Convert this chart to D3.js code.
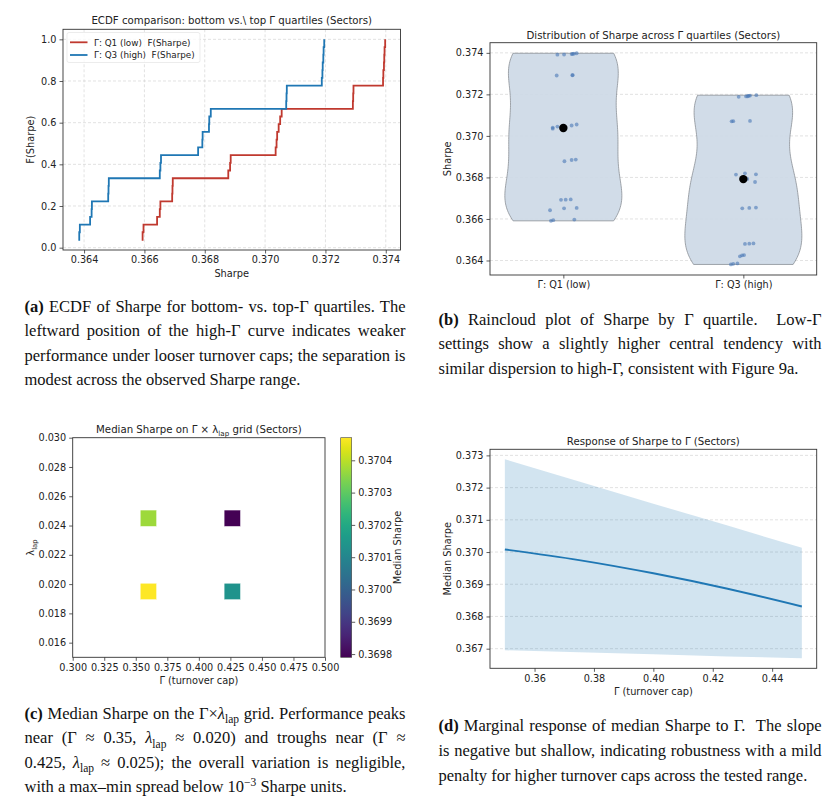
<!DOCTYPE html>
<html><head><meta charset="utf-8">
<script src="https://cdn.jsdelivr.net/npm/d3@7"></script>
<style>
body{margin:0;background:#fff}
svg{display:block}
text{font-family:"DejaVu Sans",sans-serif;fill:#222}
.cap{font-family:"Liberation Serif","Times New Roman",serif;font-size:16.5px;fill:#111;white-space:pre}
</style>
</head><body>
<svg id="fig" width="839" height="798"></svg>
<script>
// ---------------- DATA ----------------
const quartileLabels = ["Γ: Q1 (low)", "Γ: Q3 (high)"];
const ecdfLegend = ["Γ: Q1 (low)  F(Sharpe)", "Γ: Q3 (high)  F(Sharpe)"];
// Sharpe values per quartile (27 runs each)
const q1Sharpe = [0.36591,0.36594,0.36597,0.36642,0.36651,0.36653,0.36692,0.36693,0.36694,
  0.36878,0.36884,0.36886,0.37035,0.37038,0.37040,0.37045,0.37050,0.37055,
  0.37291,0.37292,0.37293,0.37391,0.37392,0.37394,0.37395,0.37396,0.37398];
const q1Jitter = [-0.069,-0.056,0.061,-0.074,0.004,0.074,-0.013,0.013,0.041,
  0.006,0.046,0.069,-0.059,0.0,-0.059,-0.033,0.046,0.074,
  -0.037,0.050,0.052,-0.033,0.004,0.046,0.052,0.059,0.074];
const q3Sharpe = [0.36381,0.36384,0.36386,0.36420,0.36425,0.36426,0.36480,0.36481,0.36482,
  0.36651,0.36653,0.36655,0.36778,0.36792,0.36793,0.36814,0.36815,0.36820,
  0.37070,0.37071,0.37072,0.37188,0.37190,0.37191,0.37193,0.37194,0.37196];
const q3Jitter = [-0.069,-0.056,-0.033,-0.019,-0.007,0.004,0.009,0.033,0.056,
  -0.006,0.033,0.070,0.065,0.0,0.022,-0.041,0.070,0.009,
  -0.065,-0.056,0.037,-0.026,0.015,0.024,0.030,0.037,0.072];
// heatmap grid
const gridGamma  = [0.36, 0.36, 0.4265, 0.4265];
const gridLambda = [0.0195, 0.0245, 0.0195, 0.0245];
const gridMedian = [0.37047, 0.37037, 0.37014, 0.36979];
const cbarTicks = [0.3698,0.3699,0.3700,0.3701,0.3702,0.3703,0.3704];
// response curve
const respGamma = [0.35, 0.375, 0.40, 0.425, 0.45];
const respMean  = [0.37008, 0.36975, 0.36934, 0.36886, 0.36831];
const respLower = [0.36695, 0.36689, 0.36683, 0.36676, 0.36670];
const respUpper = [0.37288, 0.37219, 0.37150, 0.37082, 0.37013];
// titles
const titles = ["ECDF comparison: bottom vs.\\ top Γ quartiles (Sectors)",
  "Distribution of Sharpe across Γ quartiles (Sectors)",
  "Response of Sharpe to Γ (Sectors)"];

const RED = "#c0392f", BLUE = "#1f77b4";
const svg = d3.select("#fig");
const TICK_FS = "9.7px", LAB_FS = "9.8px", TITLE_FS = "10.2px";

function pad(ext, f=0.05){const s=ext[1]-ext[0];return [ext[0]-s*f, ext[1]+s*f];}
function frame(g, box){
  g.append("rect").attr("x",box.l).attr("y",box.t).attr("width",box.r-box.l).attr("height",box.b-box.t)
   .attr("fill","none").attr("stroke","#333").attr("stroke-width",0.9);
}
function styleAxis(sel){
  sel.selectAll("path").remove();
  sel.selectAll("line").attr("stroke","#333").attr("stroke-width",0.8);
  sel.selectAll("text").attr("font-size",TICK_FS).attr("fill","#222").attr("font-family","DejaVu Sans");
}
function hgrid(g, y, ticks, box){
  g.selectAll(null).data(ticks).join("line")
   .attr("x1",box.l).attr("x2",box.r).attr("y1",d=>y(d)).attr("y2",d=>y(d))
   .attr("stroke","#d6d6d6").attr("stroke-width",0.7).attr("stroke-dasharray","3,2");
}
function vgrid(g, x, ticks, box){
  g.selectAll(null).data(ticks).join("line")
   .attr("y1",box.t).attr("y2",box.b).attr("x1",d=>x(d)).attr("x2",d=>x(d))
   .attr("stroke","#d6d6d6").attr("stroke-width",0.7).attr("stroke-dasharray","3,2");
}
function title(g, box, y, txt){
  return g.append("text").attr("x",(box.l+box.r)/2).attr("y",y).attr("text-anchor","middle")
   .attr("font-size",TITLE_FS).text(txt);
}
function ylabel(g, x, y, txt){
  return g.append("text").attr("transform",`translate(${x},${y}) rotate(-90)`).attr("text-anchor","middle")
   .attr("font-size",LAB_FS).text(txt);
}
function xlabel(g, x, y, txt){
  return g.append("text").attr("x",x).attr("y",y).attr("text-anchor","middle").attr("font-size",LAB_FS).text(txt);
}

// ---------------- (a) ECDF ----------------
(function(){
  const box={l:63,r:400.5,t:29.3,b:250};
  const g=svg.append("g");
  const all=q1Sharpe.concat(q3Sharpe);
  const n=q1Sharpe.length;
  const x=d3.scaleLinear().domain(pad(d3.extent(all))).range([box.l,box.r]);
  const y=d3.scaleLinear().domain(pad([1/n,1])).range([box.b,box.t]);
  const xt=d3.range(0.364,0.37401,0.002), yt=[0,0.2,0.4,0.6,0.8,1.0];
  vgrid(g,x,xt,box); hgrid(g,y,yt,box);
  const line=d3.line().x(d=>x(d[0])).y(d=>y(d[1])).curve(d3.curveStepAfter);
  [[q1Sharpe,RED],[q3Sharpe,BLUE]].forEach(([vals,c])=>{
    const s=vals.slice().sort(d3.ascending).map((v,i)=>[v,(i+1)/vals.length]);
    g.append("path").attr("d",line(s)).attr("fill","none").attr("stroke",c).attr("stroke-width",1.8);
  });
  frame(g,box);
  styleAxis(g.append("g").attr("transform",`translate(0,${box.b})`).call(d3.axisBottom(x).tickValues(xt).tickFormat(d3.format(".3f")).tickSizeOuter(0).tickSize(3.5).tickPadding(3)));
  styleAxis(g.append("g").attr("transform",`translate(${box.l},0)`).call(d3.axisLeft(y).tickValues(yt).tickFormat(d3.format(".1f")).tickSizeOuter(0).tickSize(3.5).tickPadding(3)));
  title(g,box,24.2,titles[0]);
  xlabel(g,(box.l+box.r)/2,276.5,"Sharpe");
  ylabel(g,34,(box.t+box.b)/2,"F(Sharpe)");
  // legend
  const lg=g.append("g");
  lg.append("rect").attr("x",67).attr("y",32.5).attr("width",133).attr("height",30).attr("rx",2)
    .attr("fill","#fff").attr("fill-opacity",0.8).attr("stroke","#e4e4e4").attr("stroke-width",0.7);
  [RED,BLUE].forEach((c,i)=>{
    const yy=42.3+i*12.7;
    lg.append("line").attr("x1",70).attr("x2",87.5).attr("y1",yy).attr("y2",yy).attr("stroke",c).attr("stroke-width",1.8);
    lg.append("text").attr("x",94).attr("y",yy+3.2).attr("font-size","8.8px").style("white-space","pre").text(ecdfLegend[i]);
  });
})();

// ---------------- (b) Raincloud ----------------
(function(){
  const box={l:490,r:816.7,t:42.7,b:275};
  const g=svg.append("g");
  const groups=[q1Sharpe,q3Sharpe], jit=[q1Jitter,q3Jitter];
  const all=q1Sharpe.concat(q3Sharpe);
  const x=d3.scaleLinear().domain([-0.4075,1.4075]).range([box.l,box.r]);
  const y=d3.scaleLinear().domain(pad(d3.extent(all))).range([box.b,box.t]);
  const yt=d3.range(0.364,0.37401,0.002);
  hgrid(g,y,yt,box);
  const halfW=0.325;
  groups.forEach((vals,gi)=>{
    const sd=d3.deviation(vals), bw=sd*Math.pow(vals.length,-0.2);
    const [lo,hi]=d3.extent(vals);
    const pts=d3.range(100).map(i=>lo+(hi-lo)*i/99);
    const dens=pts.map(p=>[p,d3.mean(vals,v=>Math.exp(-0.5*((p-v)/bw)**2))]);
    const mx=d3.max(dens,d=>d[1]);
    const area=d3.area().y(d=>y(d[0])).x0(d=>x(gi-halfW*d[1]/mx)).x1(d=>x(gi+halfW*d[1]/mx));
    g.append("path").attr("d",area(dens)).attr("fill","#ccd8e6").attr("fill-opacity",0.9)
     .attr("stroke","#8a8f96").attr("stroke-width",0.8);
    g.selectAll(null).data(vals.map((v,i)=>[v,jit[gi][i]])).join("circle")
     .attr("cx",d=>x(gi+d[1])).attr("cy",d=>y(d[0])).attr("r",1.9)
     .attr("fill","#4a78b5").attr("fill-opacity",0.6);
    g.append("circle").attr("cx",x(gi)).attr("cy",y(d3.median(vals))).attr("r",4.2).attr("fill","#000");
  });
  frame(g,box);
  styleAxis(g.append("g").attr("transform",`translate(0,${box.b})`).call(d3.axisBottom(x).tickValues([0,1]).tickFormat((d,i)=>quartileLabels[i]).tickSizeOuter(0).tickSize(3.5).tickPadding(3)));
  styleAxis(g.append("g").attr("transform",`translate(${box.l},0)`).call(d3.axisLeft(y).tickValues(yt).tickFormat(d3.format(".3f")).tickSizeOuter(0).tickSize(3.5).tickPadding(3)));
  title(g,box,38.5,titles[1]);
  ylabel(g,451,(box.t+box.b)/2,"Sharpe");
})();

// ---------------- (c) Heatmap ----------------
(function(){
  const box={l:72.7,r:325,t:437.7,b:657.3};
  const g=svg.append("g");
  const x=d3.scaleLinear().domain([0.3,0.5]).range([box.l,box.r]);
  const y=d3.scaleLinear().domain([0.015,0.030]).range([box.b,box.t]);
  const cdom=pad(d3.extent(gridMedian),0);
  const color=d3.scaleSequential(d3.interpolateViridis).domain(cdom);
  const s=16.3;
  g.selectAll(null).data(gridMedian.map((m,i)=>[gridGamma[i],gridLambda[i],m])).join("rect")
   .attr("x",d=>x(d[0])-s/2).attr("y",d=>y(d[1])-s/2).attr("width",s).attr("height",s)
   .attr("fill",d=>color(d[2])).attr("stroke","#fff").attr("stroke-width",0.4);
  frame(g,box);
  const xt=d3.range(0.3,0.5001,0.025), yt=d3.range(0.016,0.0301,0.002);
  styleAxis(g.append("g").attr("transform",`translate(0,${box.b})`).call(d3.axisBottom(x).tickValues(xt).tickFormat(d3.format(".3f")).tickSizeOuter(0).tickSize(3.5).tickPadding(3)));
  styleAxis(g.append("g").attr("transform",`translate(${box.l},0)`).call(d3.axisLeft(y).tickValues(yt).tickFormat(d3.format(".3f")).tickSizeOuter(0).tickSize(3.5).tickPadding(3)));
  const t=g.append("text").attr("x",(box.l+box.r)/2).attr("y",433).attr("text-anchor","middle").attr("font-size",TITLE_FS);
  t.append("tspan").text("Median Sharpe on Γ × λ");
  t.append("tspan").attr("dy",2.5).attr("font-size","7.1px").text("lap");
  t.append("tspan").attr("dy",-2.5).text(" grid (Sectors)");
  xlabel(g,(box.l+box.r)/2,683.5,"Γ (turnover cap)");
  const yl=g.append("text").attr("transform",`translate(34,${(box.t+box.b)/2}) rotate(-90)`).attr("text-anchor","middle").attr("font-size",LAB_FS);
  yl.append("tspan").text("λ");
  yl.append("tspan").attr("dy",2.5).attr("font-size","6.9px").text("lap");
  // colorbar
  const cb={l:340.7,r:351.7};
  const cy=d3.scaleLinear().domain(cdom).range([box.b,box.t]);
  const defs=svg.append("defs");
  const grad=defs.append("linearGradient").attr("id","vir").attr("x1",0).attr("x2",0).attr("y1",1).attr("y2",0);
  d3.range(0,1.0001,0.05).forEach(f=>grad.append("stop").attr("offset",f).attr("stop-color",d3.interpolateViridis(f)));
  g.append("rect").attr("x",cb.l).attr("y",box.t).attr("width",cb.r-cb.l).attr("height",box.b-box.t).attr("fill","url(#vir)")
   .attr("stroke","#444").attr("stroke-width",0.6);
  styleAxis(g.append("g").attr("transform",`translate(${cb.r},0)`).call(d3.axisRight(cy).tickValues(cbarTicks).tickFormat(d3.format(".4f")).tickSizeOuter(0).tickSize(3.5).tickPadding(3)));
  g.append("text").attr("transform",`translate(401,${(box.t+box.b)/2}) rotate(-90)`).attr("text-anchor","middle").attr("font-size",LAB_FS).text("Median Sharpe");
})();

// ---------------- (d) Response ----------------
(function(){
  const box={l:490,r:816.7,t:449.3,b:668.3};
  const g=svg.append("g");
  const x=d3.scaleLinear().domain(pad(d3.extent(respGamma))).range([box.l,box.r]);
  const y=d3.scaleLinear().domain(pad([d3.min(respLower),d3.max(respUpper)])).range([box.b,box.t]);
  const yt=d3.range(0.367,0.37301,0.001), xt=[0.36,0.38,0.40,0.42,0.44];
  hgrid(g,y,yt,box);
  const rows=respGamma.map((gm,i)=>({g:gm,m:respMean[i],lo:respLower[i],hi:respUpper[i]}));
  g.append("path").attr("d",d3.area().x(d=>x(d.g)).y0(d=>y(d.lo)).y1(d=>y(d.hi))(rows))
   .attr("fill","#1f77b4").attr("fill-opacity",0.2);
  g.append("path").attr("d",d3.line().x(d=>x(d.g)).y(d=>y(d.m)).curve(d3.curveMonotoneX)(rows))
   .attr("fill","none").attr("stroke",BLUE).attr("stroke-width",1.9);
  frame(g,box);
  styleAxis(g.append("g").attr("transform",`translate(0,${box.b})`).call(d3.axisBottom(x).tickValues(xt).tickFormat(d3.format(".2f")).tickSizeOuter(0).tickSize(3.5).tickPadding(3)));
  styleAxis(g.append("g").attr("transform",`translate(${box.l},0)`).call(d3.axisLeft(y).tickValues(yt).tickFormat(d3.format(".3f")).tickSizeOuter(0).tickSize(3.5).tickPadding(3)));
  title(g,box,444.5,titles[2]);
  xlabel(g,(box.l+box.r)/2,694.5,"Γ (turnover cap)");
  ylabel(g,451,(box.t+box.b)/2,"Median Sharpe");
})();

// ---------------- Captions ----------------
const capA = [
  [["b","(a)"],["n"," ECDF of Sharpe for bottom- vs. top-Γ quartiles. The"]],
  [["n","leftward position of the high-Γ curve indicates weaker"]],
  [["n","performance under looser turnover caps; the separation is"]],
  [["n","modest across the observed Sharpe range."]]
];
const capB = [
  [["b","(b)"],["n"," Raincloud plot of Sharpe by Γ quartile.  Low-Γ"]],
  [["n","settings show a slightly higher central tendency with"]],
  [["n","similar dispersion to high-Γ, consistent with Figure 9a."]]
];
const capC = [
  [["b","(c)"],["n"," Median Sharpe on the Γ×"],["i","λ"],["sub","lap"],["n"," grid. Performance peaks"]],
  [["n","near (Γ ≈ 0.35, "],["i","λ"],["sub","lap"],["n"," ≈ 0.020) and troughs near (Γ ≈"]],
  [["n","0.425, "],["i","λ"],["sub","lap"],["n"," ≈ 0.025); the overall variation is negligible,"]],
  [["n","with a max–min spread below 10"],["sup","−3"],["n"," Sharpe units."]]
];
const capD = [
  [["b","(d)"],["n"," Marginal response of median Sharpe to Γ.  The slope"]],
  [["n","is negative but shallow, indicating robustness with a mild"]],
  [["n","penalty for higher turnover caps across the tested range."]]
];
function caption(x0, width, ys, lines){
  lines.forEach((segs,i)=>{
    const t=svg.append("text").attr("class","cap").attr("x",x0).attr("y",ys[i]);
    let shift=0, spaces=0;
    segs.forEach(([k,s])=>{
      const target = k==="sub"?4.5:(k==="sup"?-6:0);
      const ts=t.append("tspan").text(s);
      if(target!==shift){ts.attr("dy",target-shift);shift=target;}
      if(k==="b") ts.attr("font-weight","bold");
      if(k==="i") ts.attr("font-style","italic");
      if(k==="sub"||k==="sup") ts.attr("font-size","11.5px");
      spaces += (s.match(/ /g)||[]).length;
    });
    if(i<lines.length-1 && spaces>0){
      const nat=t.node().getComputedTextLength();
      t.style("word-spacing",((width-nat)/spaces)+"px");
    }
  });
}
caption(24.5,381,[311.5,336,360.5,385],capA);
caption(438.5,383,[324.5,349,374],capB);
caption(24.5,381,[718.5,743,767.5,792],capC);
caption(438.5,383,[731,756,781],capD);
</script>
</body></html>
